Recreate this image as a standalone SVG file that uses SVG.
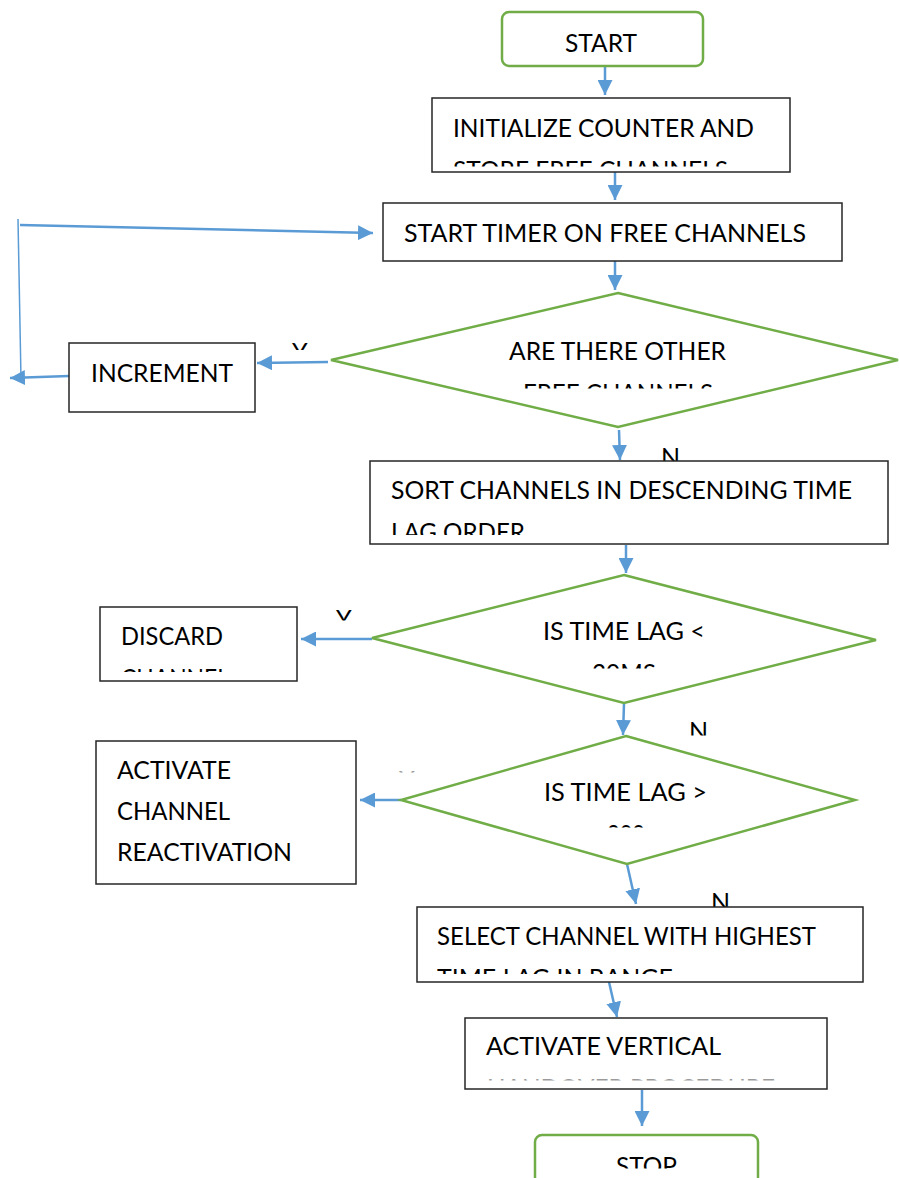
<svg xmlns="http://www.w3.org/2000/svg" width="899" height="1178" viewBox="0 0 899 1178">
  <defs>
    <style>
      .box { fill: #ffffff; stroke: #262626; stroke-width: 1.5; }
      .term { fill: #ffffff; stroke: #70AD47; stroke-width: 2.5; }
      .dec { fill: #ffffff; stroke: #70AD47; stroke-width: 2.5; stroke-linejoin: miter; }
      .flow { fill: none; stroke: #5B9BD5; stroke-width: 2.5; marker-end: url(#arrow); }
      .thin { fill: none; stroke: #5B9BD5; stroke-width: 1.5; }
      .t { font-family: Lato, Carlito, "Liberation Sans", sans-serif; font-size: 25px; fill: #000000; }
      .faint { fill: #9a9a9a; }
    </style>
    <marker id="arrow" markerUnits="userSpaceOnUse" markerWidth="15" markerHeight="15" refX="15" refY="7.5" orient="auto">
      <path d="M0,0 L15,7.5 L0,15 z" fill="#5B9BD5"/>
    </marker>
    <!-- text frames: anything below the frame edge is cut off -->
    <clipPath id="c-init"><rect x="432" y="98" width="358" height="68.5"/></clipPath>
    <clipPath id="c-d1"><rect x="331" y="293" width="567" height="95.5"/></clipPath>
    <clipPath id="c-sort"><rect x="370" y="460" width="518" height="75"/></clipPath>
    <clipPath id="c-disc"><rect x="100" y="607" width="197" height="65"/></clipPath>
    <clipPath id="c-d2"><rect x="372" y="575" width="505" height="93.5"/></clipPath>
    <clipPath id="c-d3"><rect x="401" y="736" width="454" height="91.5"/></clipPath>
    <clipPath id="c-sel"><rect x="417" y="907" width="446" height="67"/></clipPath>
    <clipPath id="c-avh"><rect x="465" y="1018" width="362" height="62.5"/></clipPath>
    <clipPath id="c-stop"><rect x="535" y="1135" width="223" height="33.5"/></clipPath>
    <clipPath id="c-y1"><rect x="280" y="330" width="40" height="20"/></clipPath>
    <clipPath id="c-y2"><rect x="325" y="595" width="40" height="25.5"/></clipPath>
    <clipPath id="c-y3"><rect x="390" y="760" width="30" height="12.5"/></clipPath>
    <clipPath id="c-n2"><rect x="680" y="710" width="40" height="25.5"/></clipPath>
  </defs>

  <rect width="899" height="1178" fill="#ffffff"/>

  <!-- connectors and their branch labels -->
  <g id="connectors">
    <path class="flow" d="M605,66 L605,95"/>
    <path class="flow" d="M615,172 L615,200"/>
    <path class="flow" d="M615,261 L615,290"/>
    <path class="flow" d="M328,362 L257,363"/>
    <path class="flow" d="M69,376 L10,378"/>
    <path class="thin" d="M18,219 L21,379"/>
    <path class="flow" d="M20,225 L373,233"/>
    <path class="flow" d="M619,430 L620,460"/>
    <path class="flow" d="M626,545 L626,573"/>
    <path class="flow" d="M372,639 L301,639"/>
    <path class="flow" d="M624,704 L623,735"/>
    <path class="flow" d="M401,800 L360,800"/>
    <path class="flow" d="M627,864 L636,904"/>
    <path class="flow" d="M609,982 L617,1017"/>
    <path class="flow" d="M642,1090 L642,1126"/>

    <g clip-path="url(#c-y1)"><text class="t" x="292" y="361">Y</text></g>
    <g clip-path="url(#c-y2)"><text class="t" x="336" y="628">Y</text></g>
    <g clip-path="url(#c-y3)"><text class="t faint" x="399" y="789">Y</text></g>
    <text class="t" x="661" y="466">N</text>
    <g clip-path="url(#c-n2)"><text class="t" x="689" y="740">N</text></g>
    <text class="t" x="711" y="911">N</text>
  </g>

  <g id="start">
    <rect class="term" x="502" y="12" width="201" height="54" rx="7"/>
    <text class="t" x="565" y="52" textLength="72" lengthAdjust="spacingAndGlyphs">START</text>
  </g>

  <g id="init">
    <rect class="box" x="432" y="98" width="358" height="74"/>
    <g clip-path="url(#c-init)">
      <text class="t" x="453" y="137" textLength="301" lengthAdjust="spacingAndGlyphs">INITIALIZE COUNTER AND</text>
      <text class="t" x="453" y="179" textLength="275" lengthAdjust="spacingAndGlyphs">STORE FREE CHANNELS</text>
    </g>
  </g>

  <g id="start-timer">
    <rect class="box" x="383" y="203" width="459" height="58"/>
    <text class="t" x="404" y="242" textLength="402" lengthAdjust="spacingAndGlyphs">START TIMER ON FREE CHANNELS</text>
  </g>

  <g id="other-free">
    <polygon class="dec" points="618,293 898,360 618,427 331,360"/>
    <g clip-path="url(#c-d1)">
      <text class="t" x="509" y="360" textLength="217" lengthAdjust="spacingAndGlyphs">ARE THERE OTHER</text>
      <text class="t" x="523" y="402" textLength="190" lengthAdjust="spacingAndGlyphs">FREE CHANNELS</text>
    </g>
  </g>

  <g id="increment">
    <rect class="box" x="69" y="343" width="186" height="69"/>
    <text class="t" x="91" y="382" textLength="142" lengthAdjust="spacingAndGlyphs">INCREMENT</text>
  </g>

  <g id="sort">
    <rect class="box" x="370" y="461" width="518" height="83"/>
    <g clip-path="url(#c-sort)">
      <text class="t" x="391" y="499" textLength="461" lengthAdjust="spacingAndGlyphs">SORT CHANNELS IN DESCENDING TIME</text>
      <text class="t" x="391" y="541" textLength="134" lengthAdjust="spacingAndGlyphs">LAG ORDER</text>
    </g>
  </g>

  <g id="lag-low">
    <polygon class="dec" points="624,575 876,640 624,703 372,638"/>
    <g clip-path="url(#c-d2)">
      <text class="t" x="543" y="640" textLength="162" lengthAdjust="spacingAndGlyphs">IS TIME LAG &lt;</text>
      <text class="t" x="592" y="682" textLength="64" lengthAdjust="spacingAndGlyphs">20MS</text>
    </g>
  </g>

  <g id="discard">
    <rect class="box" x="100" y="607" width="197" height="74"/>
    <g clip-path="url(#c-disc)">
      <text class="t" x="121" y="645" textLength="102" lengthAdjust="spacingAndGlyphs">DISCARD</text>
      <text class="t" x="121" y="687" textLength="108" lengthAdjust="spacingAndGlyphs">CHANNEL</text>
    </g>
  </g>

  <g id="lag-high">
    <polygon class="dec" points="626,736 855,800 627,864 401,800"/>
    <g clip-path="url(#c-d3)">
      <text class="t" x="544" y="801" textLength="163" lengthAdjust="spacingAndGlyphs">IS TIME LAG &gt;</text>
      <text class="t" x="607" y="843" textLength="38" lengthAdjust="spacingAndGlyphs">200</text>
    </g>
  </g>

  <g id="reactivation">
    <rect class="box" x="96" y="741" width="260" height="143"/>
    <text class="t" x="117" y="779" textLength="114" lengthAdjust="spacingAndGlyphs">ACTIVATE</text>
    <text class="t" x="117" y="820" textLength="113" lengthAdjust="spacingAndGlyphs">CHANNEL</text>
    <text class="t" x="117" y="861" textLength="175" lengthAdjust="spacingAndGlyphs">REACTIVATION</text>
  </g>

  <g id="select">
    <rect class="box" x="417" y="907" width="446" height="75"/>
    <g clip-path="url(#c-sel)">
      <text class="t" x="437" y="945" textLength="379" lengthAdjust="spacingAndGlyphs">SELECT CHANNEL WITH HIGHEST</text>
      <text class="t" x="437" y="987" textLength="236" lengthAdjust="spacingAndGlyphs">TIME LAG IN RANGE</text>
    </g>
  </g>

  <g id="vertical-handover">
    <rect class="box" x="465" y="1018" width="362" height="71"/>
    <g clip-path="url(#c-avh)">
      <text class="t" x="486" y="1055" textLength="235" lengthAdjust="spacingAndGlyphs">ACTIVATE VERTICAL</text>
      <text class="t faint" x="487" y="1096.5" textLength="288" lengthAdjust="spacingAndGlyphs">HANDOVER PROCEDURE</text>
    </g>
  </g>

  <g id="stop">
    <rect class="term" x="535" y="1135" width="223" height="70" rx="7"/>
    <g clip-path="url(#c-stop)">
      <text class="t" x="616" y="1175" textLength="61" lengthAdjust="spacingAndGlyphs">STOP</text>
    </g>
  </g>
</svg>
